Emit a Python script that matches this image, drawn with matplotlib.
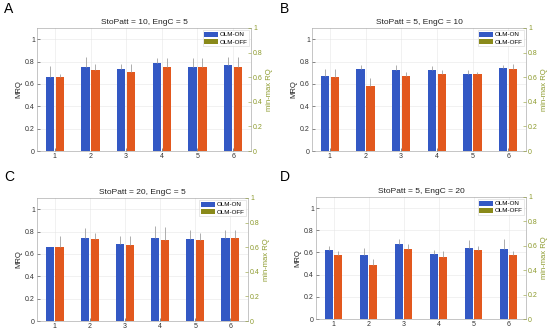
import matplotlib
matplotlib.use("Agg")
import matplotlib.pyplot as plt
from matplotlib.patches import Patch
import numpy as np

plt.rcParams['font.family'] = ['Liberation Sans', 'DejaVu Sans']

groups = [1, 2, 3, 4, 5, 6]
titles = ["StoPatt = 10, EngC = 5", "StoPatt = 5, EngC = 10",
          "StoPatt = 20, EngC = 5", "StoPatt = 5, EngC = 20"]
letters = ["A", "B", "C", "D"]

on_A = [0.66, 0.75, 0.73, 0.79, 0.75, 0.77]
off_A = [0.66, 0.72, 0.71, 0.755, 0.75, 0.755]
on_err_A = [0.10, 0.09, 0.05, 0.045, 0.085, 0.07]
off_err_A = [0.03, 0.06, 0.07, 0.075, 0.085, 0.085]

on_B = [0.67, 0.73, 0.72, 0.72, 0.69, 0.74]
off_B = [0.66, 0.58, 0.67, 0.69, 0.685, 0.73]
on_err_B = [0.06, 0.04, 0.05, 0.04, 0.03, 0.03]
off_err_B = [0.07, 0.07, 0.04, 0.03, 0.025, 0.045]

on_C = [0.66, 0.74, 0.69, 0.74, 0.733, 0.74]
off_C = [0.66, 0.733, 0.68, 0.72, 0.72, 0.74]
on_err_C = [0.0, 0.09, 0.07, 0.11, 0.077, 0.075]
off_err_C = [0.10, 0.057, 0.077, 0.12, 0.07, 0.075]

on_D = [0.62, 0.573, 0.68, 0.59, 0.64, 0.633]
off_D = [0.573, 0.49, 0.633, 0.56, 0.62, 0.573]
on_err_D = [0.04, 0.067, 0.04, 0.03, 0.07, 0.087]
off_err_D = [0.037, 0.05, 0.047, 0.05, 0.04, 0.037]

panels = [(on_A, off_A, on_err_A, off_err_A),
          (on_B, off_B, on_err_B, off_err_B),
          (on_C, off_C, on_err_C, off_err_C),
          (on_D, off_D, on_err_D, off_err_D)]

W, H = 550, 332
fig = plt.figure(figsize=(5.5, 3.32), dpi=100)

# axes rects in pixels: left, top, right, bottom
rects = [(37, 28, 251, 151), (312, 28, 526, 151),
         (37, 198, 248, 321), (316, 197, 526, 319)]
letter_pos = [(4, 2), (280, 2), (4, 170), (280, 170)]

c_on = "#3358c4"
c_off = "#e2581e"
c_leg_off = "#8a8a1a"
c_right = "#8c9a2c"
c_err = "#a0a0a0"

for i, (l, t, r, b) in enumerate(rects):
    ax = fig.add_axes([l / W, 1 - b / H, (r - l) / W, (b - t) / H])
    on, off, eon, eoff = panels[i]
    x = np.array(groups)
    bw = 0.23
    ax.bar(x - 0.14, on, bw, color=c_on, zorder=2)
    ax.bar(x + 0.14, off, bw, color=c_off, zorder=2)
    ax.errorbar(x - 0.14, on, yerr=[np.zeros(6), eon], fmt='none',
                ecolor=c_err, elinewidth=0.6, capsize=0, zorder=3)
    ax.errorbar(x + 0.14, off, yerr=[np.zeros(6), eoff], fmt='none',
                ecolor=c_err, elinewidth=0.6, capsize=0, zorder=3)
    ax.set_xlim(0.5, 6.5)
    ax.set_ylim(0, 1.1)
    ax.set_yticks([0, 0.2, 0.4, 0.6, 0.8, 1])
    ax.set_yticklabels(["0", "0.2", "0.4", "0.6", "0.8", "1"])
    ax.set_xticks(groups)
    ax.tick_params(labelsize=5, length=2, width=0.4, pad=1.5,
                   colors="#333333", direction="in")
    ax.grid(True, color="#e6e6e6", linewidth=0.4, zorder=0)
    ax.set_axisbelow(True)
    for s in ax.spines.values():
        s.set_linewidth(0.4)
        s.set_color("#999999")
    ax.set_ylabel("MRQ", fontsize=5.5, labelpad=2, color="#222222")
    ax.set_title(titles[i], fontsize=6, pad=3, color="#222222")
    ax2 = ax.twinx()
    ax2.set_ylim(0, 1)
    ax2.set_yticks([0, 0.2, 0.4, 0.6, 0.8, 1])
    ax2.set_yticklabels(["0", "0.2", "0.4", "0.6", "0.8", "1"])
    ax2.tick_params(labelsize=5, length=2, width=0.4, pad=1.5,
                    colors=c_right, direction="in")
    ax2.set_ylabel("min-max RQ", fontsize=5.5, color=c_right, rotation=90,
                   labelpad=2)
    for s in ax2.spines.values():
        s.set_visible(False)
    handles = [Patch(facecolor=c_on, label="OLM-ON"),
               Patch(facecolor=c_leg_off, label="OLM-OFF")]
    leg = ax.legend(handles=handles, loc="upper right", fontsize=4.5,
                    frameon=True, fancybox=False, edgecolor="#cccccc",
                    handlelength=2.2, handleheight=0.9, handletextpad=0.2,
                    borderpad=0.3, labelspacing=0.2, borderaxespad=0.3)
    leg.get_frame().set_linewidth(0.4)
    lx, ly = letter_pos[i]
    fig.text(lx / W, 1 - ly / H, letters[i], fontsize=10, va="top", ha="left")

fig.savefig("out.png", dpi=100)
